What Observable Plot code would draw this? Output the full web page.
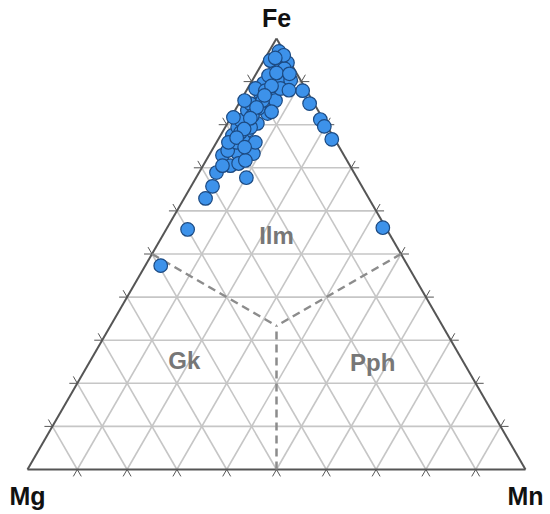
<!DOCTYPE html>
<html>
<head>
<meta charset="utf-8">
<script src="https://cdn.jsdelivr.net/npm/d3@7"></script>
<script src="https://cdn.jsdelivr.net/npm/@observablehq/plot@0.6"></script>
<style>
  html, body { margin: 0; padding: 0; background: #fff; }
  #chart svg { display: block; }
</style>
</head>
<body>
<div id="chart"></div>
<script>
// Ternary compositions (%)
const fe = [97.0, 94.4, 87.9, 84.9, 81.2, 79.6, 76.6, 56.1,
  47.3, 55.7, 62.9, 65.7, 68.9, 67.7, 72.9, 73.5, 73.3, 70.5, 71.0, 74.0,
  77.5, 79.4, 81.0, 83.3, 84.9, 87.2, 89.6, 93.3, 94.9, 90.7, 90.3, 86.3,
  85.6, 82.6, 80.3, 78.7, 83.8, 76.3, 81.7, 79.4, 75.9, 88.4, 91.4, 93.0,
  90.3, 85.6, 85.6, 82.1, 78.2, 75.9, 75.9, 87.9, 88.4, 96.1, 70.5, 71.7,
  92.0, 89.0, 86.8, 84.0, 81.5, 79.0, 77.0, 74.8, 88.0, 83.0, 95.5, 91.8];
const mg = [1.0, 0.6, 0.8, 0.9, 0.6, 0.6, 0.6, 0.6,
  49.6, 40.0, 32.8, 30.0, 27.6, 22.2, 24.4, 21.1, 18.0, 24.0, 22.1, 22.8,
  20.1, 18.1, 16.7, 14.2, 12.8, 9.6, 7.8, 3.5, 3.8, 2.3, 4.6, 8.1,
  7.4, 10.5, 13.7, 16.4, 11.7, 18.5, 17.8, 15.5, 20.1, 10.0, 5.9, 1.9,
  2.0, 10.0, 13.6, 13.8, 18.1, 21.7, 16.3, 8.3, 5.0, 0.5, 25.6, 20.4,
  4.0, 6.5, 9.0, 12.0, 14.5, 17.0, 19.5, 19.0, 3.5, 9.5, 2.5, 1.5];
const mn = fe.map((f, i) => Math.max(0, 100 - f - mg[i]));

const gridSteps = [10, 20, 30, 40, 50, 60, 70, 80, 90];
const apexNames = ["Fe", "Mg", "Mn"];
// field labels and their ternary anchor points (Fe, Mg, Mn)
const fieldNames = ["Ilm", "Gk", "Pph"];
const fieldFe = [54, 25, 24.6];
const fieldMg = [23, 56, 18.4];
const fieldMn = [23, 19, 57];
// field boundaries: from edge midpoints to centroid
const boundaryFrom = [[50, 50, 0], [50, 0, 50], [0, 50, 50]];
const boundaryTo = [100 / 3, 100 / 3, 100 / 3];

const H = Math.sqrt(3) / 2;
function tern(f, g, n) {
  const s = f + g + n;
  return [(n + f / 2) / s, (f / s) * H];
}

// grid segments
const grid = [];
for (const k of gridSteps) {
  const r = 100 - k;
  grid.push([tern(k, r, 0), tern(k, 0, r)]);   // Fe = k
  grid.push([tern(r, k, 0), tern(0, k, r)]);   // Mg = k
  grid.push([tern(r, 0, k), tern(0, r, k)]);   // Mn = k
}
const gridData = grid.map(([a, b]) => ({x1: a[0], y1: a[1], x2: b[0], y2: b[1]}));
// tick extensions beyond the edges
const ext = 0.016;
const ticks = [];
for (const [a, b] of grid) {
  const dx = b[0] - a[0], dy = b[1] - a[1], L = Math.hypot(dx, dy);
  const ux = dx / L, uy = dy / L;
  ticks.push({x1: a[0], y1: a[1], x2: a[0] - ux * ext, y2: a[1] - uy * ext});
  ticks.push({x1: b[0], y1: b[1], x2: b[0] + ux * ext, y2: b[1] + uy * ext});
}
const verts = [tern(100, 0, 0), tern(0, 100, 0), tern(0, 0, 100)];
const edgeData = [[verts[0], verts[1]], [verts[1], verts[2]], [verts[2], verts[0]]]
  .map(([a, b]) => ({x1: a[0], y1: a[1], x2: b[0], y2: b[1]}));
const bTo = tern(...boundaryTo);
const boundaryData = boundaryFrom.map(p => {
  const a = tern(...p);
  return {x1: a[0], y1: a[1], x2: bTo[0], y2: bTo[1]};
});
const points = fe.map((f, i) => {
  const [x, y] = tern(f, mg[i], mn[i]);
  return {x, y};
});
const fields = fieldNames.map((name, i) => {
  const [x, y] = tern(fieldFe[i], fieldMg[i], fieldMn[i]);
  return {name, x, y};
});
const apexes = apexNames.map((name, i) => ({name, x: verts[i][0], y: verts[i][1]}));

const chart = Plot.plot({
  width: 550,
  height: 514,
  marginLeft: 27,
  marginRight: 25,
  marginTop: 38,
  marginBottom: 45,
  x: {domain: [0, 1], axis: null},
  y: {domain: [0, H], axis: null},
  style: {fontFamily: "'Liberation Sans', Arial, sans-serif", background: "#fff"},
  marks: [
    Plot.link(gridData, {x1: "x1", y1: "y1", x2: "x2", y2: "y2", stroke: "#c6c6c6", strokeWidth: 1.6}),
    Plot.link(ticks, {x1: "x1", y1: "y1", x2: "x2", y2: "y2", stroke: "#555", strokeWidth: 1}),
    Plot.link(edgeData, {x1: "x1", y1: "y1", x2: "x2", y2: "y2", stroke: "#555", strokeWidth: 2}),
    Plot.link(boundaryData, {x1: "x1", y1: "y1", x2: "x2", y2: "y2", stroke: "#8c8c8c", strokeWidth: 2.5, strokeDasharray: "8,5"}),
    Plot.text(fields, {x: "x", y: "y", text: "name", fill: "#777", fontSize: 24, fontWeight: "bold", textAnchor: "middle", lineAnchor: "middle", style: "letter-spacing:1.5px"}),
    Plot.dot(points, {x: "x", y: "y", r: 6.8, fill: "#3d92ea", stroke: "#1c4a82", strokeWidth: 1.2}),
    Plot.text(apexes.slice(0, 1), {x: "x", y: "y", text: "name", dy: -20, fill: "#111", fontSize: 25, fontWeight: "bold", textAnchor: "middle", lineAnchor: "middle"}),
    Plot.text(apexes.slice(1), {x: "x", y: "y", text: "name", dy: 27, fill: "#111", fontSize: 25, fontWeight: "bold", textAnchor: "middle", lineAnchor: "middle"})
  ]
});
document.getElementById("chart").appendChild(chart);
</script>
</body>
</html>
